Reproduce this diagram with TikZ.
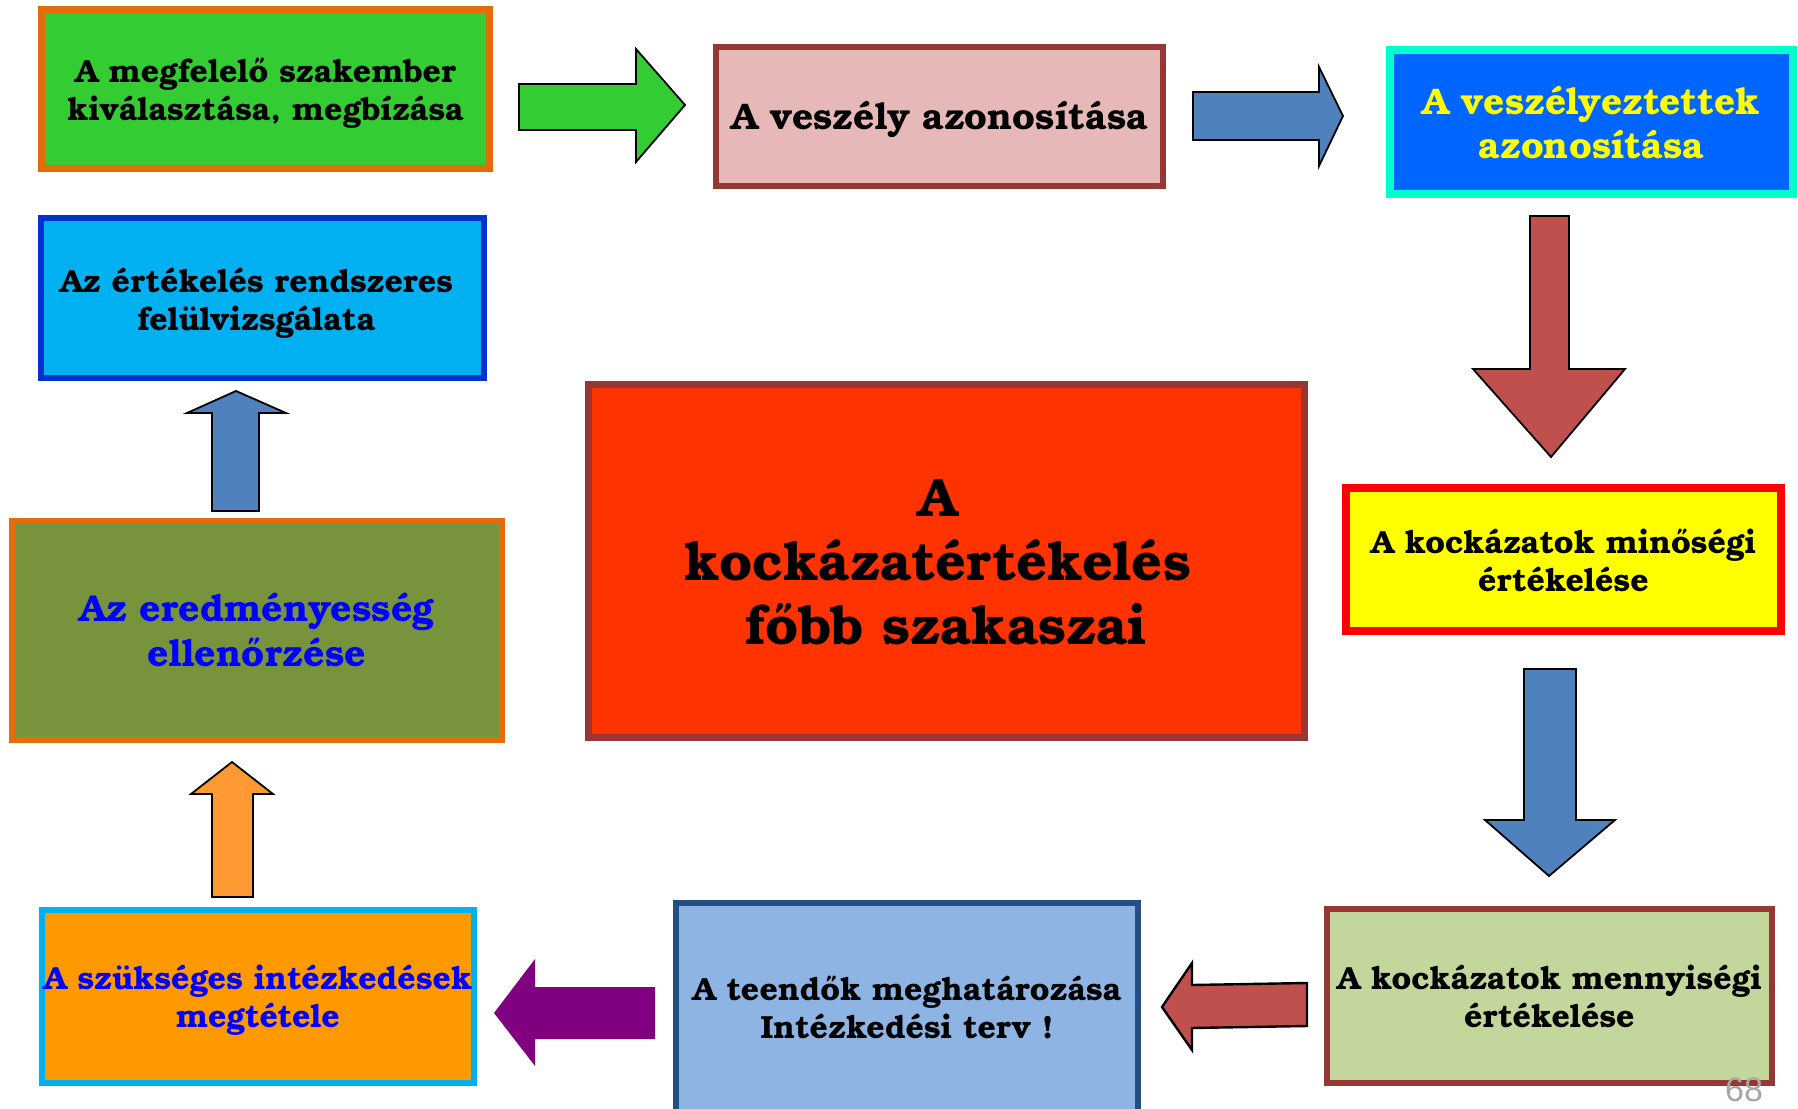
\documentclass[tikz,border=0pt]{standalone}
\usepackage{fontspec}
\setmainfont{TeX Gyre Bonum}
\newfontfamily\pgfont{Liberation Sans}
\definecolor{cOrangeB}{HTML}{E36C09}
\definecolor{cGreen}{HTML}{33CC33}
\definecolor{cDarkRed}{HTML}{953735}
\definecolor{cPink}{HTML}{E6B9B8}
\definecolor{cCyanB}{HTML}{00FFCC}
\definecolor{cBlue}{HTML}{0066FF}
\definecolor{cYellow}{HTML}{FFFF00}
\definecolor{cRed}{HTML}{FF0000}
\definecolor{cLtGreen}{HTML}{C3D69B}
\definecolor{cNavy}{HTML}{254F82}
\definecolor{cLtBlue}{HTML}{8EB4E3}
\definecolor{cSky}{HTML}{00B0F0}
\definecolor{cOrange}{HTML}{FF9900}
\definecolor{cTxtBlue}{HTML}{0000FF}
\definecolor{cOlive}{HTML}{77933C}
\definecolor{cOrangeB2}{HTML}{E46C0A}
\definecolor{cDeepBlue}{HTML}{0033CC}
\definecolor{cCentral}{HTML}{FF3300}
\definecolor{cArrBlue}{HTML}{4F81BD}
\definecolor{cArrRed}{HTML}{C0504D}
\definecolor{cPurple}{HTML}{800080}
\definecolor{cArrOrange}{HTML}{FF9933}
\definecolor{cPage}{HTML}{A6A6A6}
% text block: horizontal shift, vertical shift, lines
\newcommand\btext[3]{\hspace*{#1}\raisebox{#2}[\height][\depth]{\begin{tabular}{@{}c@{}}#3\end{tabular}}\hspace*{-#1}}
\tikzset{
  box/.style={draw, rectangle, inner sep=0pt, align=center, font=\bfseries\fontsize{16}{19}\selectfont},
  blockarrow/.style={draw=black, line width=0.9pt, line join=miter},
}
\begin{document}
\begin{tikzpicture}[x=0.5pt, y=-0.5pt]
\useasboundingbox (0,0) rectangle (1798,1108);
\fill[white] (0,0) rectangle (1798,1108);

% boxes
\node[box, fill=cGreen, draw=cOrangeB, line width=3.5pt, minimum width=224pt, minimum height=79.5pt] (b1) at (265.5,89)
  {\btext{0pt}{-2.3pt}{A megfelelő szakember\\kiválasztása, megbízása}};
\node[box, fill=cPink, draw=cDarkRed, line width=3pt, minimum width=223.5pt, minimum height=69.5pt,
  font=\bfseries\fontsize{18.5}{22}\selectfont] (b2) at (939.5,116.5)
  {\btext{0pt}{-2.2pt}{A veszély azonosítása}};
\node[box, fill=cBlue, draw=cCyanB, line width=4pt, minimum width=201.5pt, minimum height=72pt,
  text=cYellow, font=\bfseries\fontsize{18.5}{22}\selectfont] (b3) at (1591.5,122)
  {\btext{0pt}{-2.6pt}{A veszélyeztettek\\azonosítása}};
\node[box, fill=cYellow, draw=cRed, line width=4pt, minimum width=217.5pt, minimum height=71.5pt] (b4) at (1563.5,559.5)
  {\btext{0pt}{-2.5pt}{A kockázatok minőségi\\értékelése}};
\node[box, fill=cLtGreen, draw=cDarkRed, line width=3pt, minimum width=222.5pt, minimum height=87pt] (b5) at (1549.5,996)
  {\btext{0pt}{-2.3pt}{A kockázatok mennyiségi\\értékelése}};
\node[box, fill=cLtBlue, draw=cNavy, line width=3pt, minimum width=231pt, minimum height=109pt] (b6) at (907,1012)
  {\btext{0pt}{0.3pt}{A teendők meghatározása\\Intézkedési terv !}};
\node[box, fill=cOrange, draw=cSky, line width=3pt, minimum width=216pt, minimum height=86.5pt, text=cTxtBlue] (b7) at (258,996.5)
  {\btext{0pt}{-2.3pt}{A szükséges intézkedések\\megtétele}};
\node[box, fill=cOlive, draw=cOrangeB2, line width=3pt, minimum width=245pt, minimum height=109.5pt, text=cTxtBlue,
  font=\bfseries\fontsize{18.7}{22.5}\selectfont] (b8) at (257,630.5)
  {\btext{0pt}{-2.3pt}{Az eredményesség\\ellenőrzése}};
\node[box, fill=cSky, draw=cDeepBlue, line width=3pt, minimum width=221.5pt, minimum height=80pt] (b9) at (262.5,298)
  {\btext{-3pt}{-2.9pt}{Az értékelés rendszeres\\felülvizsgálata}};
\node[box, fill=cCentral, draw=cDarkRed, line width=3.5pt, minimum width=358pt, minimum height=176.5pt,
  font=\bfseries\fontsize{26.9}{32}\selectfont] (c) at (946.5,561)
  {\btext{0pt}{-3.4pt}{A\hspace*{8.6pt}\\kockázatértékelés\hspace*{8.6pt}\\főbb szakaszai}};

% block arrows
\draw[blockarrow, fill=cGreen] (519,84) -- (636,84) -- (636,49) -- (685,105) -- (636,162) -- (636,130) -- (519,130) -- cycle;
\draw[blockarrow, fill=cArrBlue] (1193,92) -- (1319,92) -- (1319,67) -- (1343,116) -- (1319,166) -- (1319,140) -- (1193,140) -- cycle;
\draw[blockarrow, fill=cArrRed] (1530,216) -- (1569,216) -- (1569,369) -- (1625,369) -- (1551,457) -- (1473,369) -- (1530,369) -- cycle;
\draw[blockarrow, fill=cArrBlue] (1524,669) -- (1576,669) -- (1576,820) -- (1615,820) -- (1549,876) -- (1485,820) -- (1524,820) -- cycle;
\draw[blockarrow, line width=1.2pt, fill=cArrRed] (1307,983) -- (1192,985) -- (1192,963) -- (1162,1007) -- (1192,1050) -- (1192,1028) -- (1307,1026) -- cycle;
\fill[cPurple] (655,987) -- (535,987) -- (535,959) -- (494,1013) -- (535,1066) -- (535,1039) -- (655,1039) -- cycle;
\draw[blockarrow, fill=cArrOrange] (212,897) -- (212,794) -- (191,794) -- (232,762) -- (273,794) -- (253,794) -- (253,897) -- cycle;
\draw[blockarrow, fill=cArrBlue] (212,511) -- (212,413) -- (187,413) -- (236,391) -- (286,413) -- (259,413) -- (259,511) -- cycle;

% page number
\node[text=cPage, font=\pgfont\fontsize{17}{17}\selectfont, inner sep=0pt] (pg) at (1744,1090) {68};
\end{tikzpicture}
\end{document}
